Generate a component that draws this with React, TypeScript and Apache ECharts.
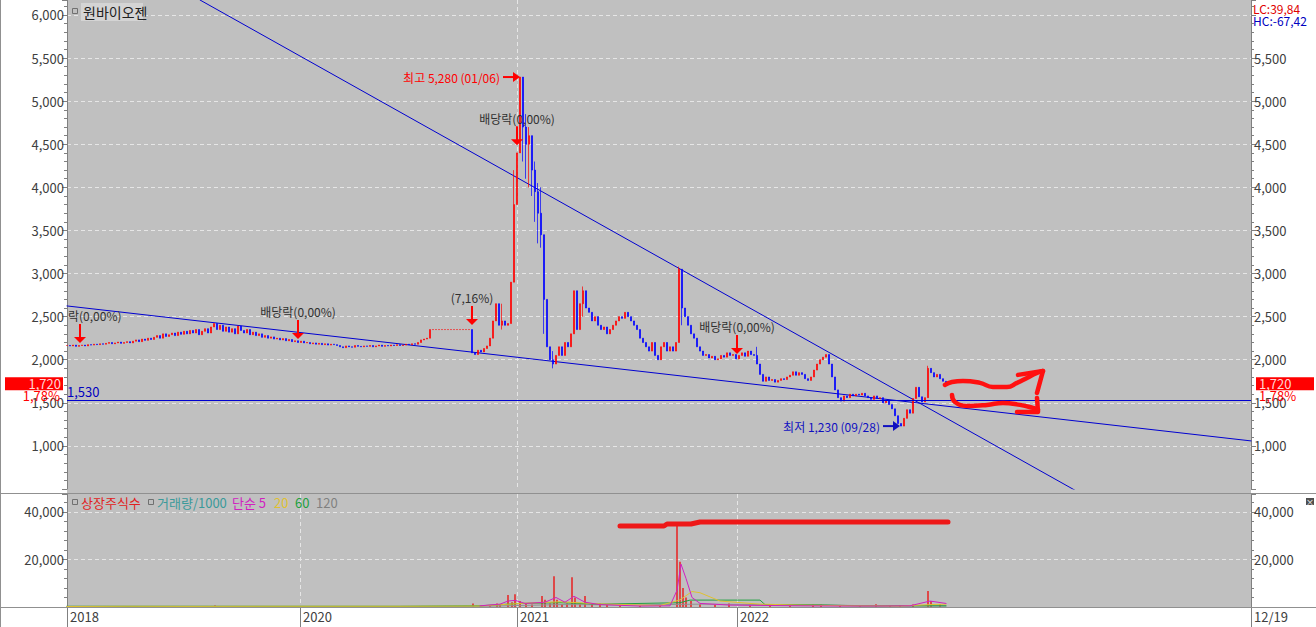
import React, { useEffect, useRef } from 'react';
import * as echarts from 'echarts';

const FONT = "'Noto Sans CJK KR', 'Noto Sans', sans-serif";

// x positions: plot units from the first trading day (0) to the right edge of the chart (1184)
const xTickValues = [0, 233, 450, 670, 1184];
const xTickLabels = ['2018', '2020', '2021', '2022', '12/19'];

const stockName = '원바이오젠';
const lcText = 'LC:39,84';
const hcText = 'HC:-67,42';

const priceStepX = 3;
// sampled closing prices (one every 3 plot units)
const closes = [
  2165, 2160, 2170, 2155, 2165, 2170, 2160, 2175, 2170, 2180,
  2175, 2185, 2180, 2190, 2200, 2185, 2195, 2205, 2190, 2200,
  2210, 2195, 2215, 2230, 2210, 2240, 2225, 2250, 2235, 2260,
  2280, 2250, 2300, 2270, 2290, 2310, 2280, 2320, 2295, 2330,
  2300, 2340, 2310, 2350, 2290, 2330, 2360, 2310, 2380, 2420,
  2350, 2400, 2330, 2380, 2320, 2360, 2300, 2390, 2340, 2310,
  2350, 2290, 2320, 2280, 2300, 2260, 2280, 2250, 2265, 2240,
  2250, 2230, 2245, 2220, 2235, 2210, 2220, 2200, 2215, 2195,
  2200, 2185, 2195, 2180, 2190, 2175, 2185, 2170, 2180, 2175,
  2165, 2150, 2140, 2160, 2150, 2145, 2165, 2155, 2150, 2160,
  2155, 2165, 2150, 2160, 2170, 2155, 2165, 2160, 2170, 2165,
  2175, 2165, 2170, 2180, 2175, 2185, 2180, 2200, 2230, 2240,
  2250, 2350, 2350, 2350, 2350, 2350, 2350, 2350, 2350, 2350,
  2350, 2350, 2350, 2350, 2350, 2080, 2060, 2110, 2090, 2130,
  2160, 2250, 2450, 2650, 2400, 2450, 2400, 2420, 2900, 3800,
  4400, 5280, 4700, 4500, 4600, 4200, 3950, 3700, 3450, 2700,
  2150, 2000, 1950, 2050, 2150, 2050, 2200, 2150, 2300, 2800,
  2350, 2650, 2800, 2600, 2550, 2450, 2500, 2400, 2350, 2380,
  2300, 2350, 2400, 2450, 2500, 2480, 2550, 2500, 2450, 2400,
  2350, 2250, 2200, 2150, 2100, 2200, 2050, 2000, 2150, 2200,
  2100, 2150, 2100, 2200, 3050, 2600, 2500, 2400, 2300, 2250,
  2150, 2100, 2050, 2060, 2020, 2040, 2000, 2010, 2050, 2030,
  2080, 2050, 2060, 2010, 2050, 2080, 2040, 2100, 2060, 2050,
  1950, 1830, 1750, 1800, 1760, 1770, 1740, 1760, 1780, 1770,
  1800, 1820, 1860, 1820, 1850, 1830, 1780, 1760, 1800, 1880,
  1950, 2000, 2030, 2060, 1950, 1800, 1650, 1560, 1520, 1580,
  1560, 1600, 1580, 1600, 1590, 1610, 1580, 1560, 1540, 1580,
  1550, 1560, 1500, 1520, 1480, 1430, 1350, 1260, 1230, 1320,
  1420, 1380, 1550, 1680, 1570, 1510, 1560, 1900, 1850, 1800,
  1830, 1780, 1750, 1720,
];
// intraday extremes: [x, low, high]
const wicks = [
  [447, 3600, 4200], [456, 4300, 5000], [459, 4100, 4850], [462, 4000, 4700], [465, 3900, 4500],
  [468, 3600, 4300], [471, 3350, 4050], [474, 3300, 4000], [477, 2300, 2800], [486, 1900, 2100],
  [516, 2500, 2850], [612, 2200, 3080], [615, 2400, 2900], [435, 2350, 2650], [690, 1950, 2150],
  [760, 1720, 1900], [833, 1210, 1300], [861, 1720, 1930],
];

const lastPrice = 1720;
const lastPriceLabel = '1,720';
const lastChangeLabel = '1,78%';
const supportLevel = 1530;

const trendSteep = [[133, 6174], [1011, 466]];
const trendShallow = [[0, 2624], [1184, 1058]];

const peakMark = { x: 453, price: 5280, label: '최고 5,280 (01/06)' };
const troughMark = { x: 833, price: 1230, label: '최저 1,230 (09/28)' };
const dividendMarks = [
  { x: 13, price: 2195, label: '락(0,00%)', clipped: true },
  { x: 231, price: 2241, label: '배당락(0,00%)', clipped: false },
  { x: 450, price: 4490, label: '배당락(0,00%)', clipped: false },
  { x: 670, price: 2067, label: '배당락(0,00%)', clipped: false },
  { x: 405, price: 2404, label: '(7,16%)', clipped: false },
];

// hand-drawn red strokes on the price pane
const strokeUpper = [[878, 1708], [885, 1742], [896, 1754], [913, 1731], [926, 1684], [940, 1684], [950, 1731], [960, 1789], [970, 1847], [976, 1870]];
const strokeUpperHead = [[951, 1824], [976, 1870], [970, 1615]];
const strokeLower = [[885, 1592], [888, 1510], [900, 1464], [920, 1476], [936, 1499], [953, 1476], [966, 1441], [971, 1420]];
const strokeLowerHead = [[970, 1557], [971, 1394], [950, 1394]];

// volume pane (거래량/1000)
const volumeBars = [
  [3, 300], [33, 250], [63, 300], [93, 400], [123, 350], [148, 600], [173, 450], [203, 300], [233, 250], [263, 200],
  [293, 200], [323, 250], [353, 300], [406, 1500], [423, 800], [430, 1500], [433, 1200], [441, 5000], [445, 2000], [448, 5400],
  [453, 2500], [459, 1500], [465, 1000], [475, 4600], [478, 3000], [483, 1500], [487, 12900], [490, 3000], [495, 1200], [500, 1500],
  [505, 12500], [508, 4000], [513, 1500], [518, 4600], [525, 1200], [533, 1500], [540, 1000], [553, 600], [573, 500], [593, 800],
  [610, 34000], [613, 19000], [616, 8000], [619, 4000], [624, 2500], [633, 1200], [648, 800], [662, 1500], [683, 600], [703, 500],
  [723, 400], [746, 1000], [754, 1000], [773, 400], [793, 300], [809, 1200], [823, 500], [833, 800], [846, 1000], [861, 6700],
  [864, 2500], [873, 1200],
];
const volumeMA5 = [[413, 500], [433, 1200], [441, 2500], [448, 2800], [458, 1500], [478, 2000], [489, 4000], [498, 2000], [507, 4500], [518, 2000], [533, 1000], [573, 400], [603, 500], [610, 7000], [614, 18000], [619, 12000], [625, 4000], [633, 1500], [663, 800], [733, 500], [773, 400], [813, 400], [843, 500], [863, 2500], [879, 1500]];
const volumeMA20 = [[0, 200], [60, 300], [120, 250], [200, 300], [333, 300], [413, 400], [453, 1500], [493, 2200], [533, 1300], [593, 600], [613, 3000], [625, 6500], [633, 6000], [653, 2500], [693, 1200], [733, 800], [783, 500], [833, 400], [863, 1000], [879, 1200]];
const volumeMA60 = [[0, 300], [133, 300], [333, 300], [413, 500], [453, 1500], [493, 1800], [533, 1200], [613, 1800], [623, 2900], [693, 2900], [698, 1000], [753, 900], [793, 500], [879, 500]];
const volumeMA120 = [[0, 250], [333, 250], [413, 300], [493, 1000], [573, 900], [633, 1200], [713, 1000], [793, 600], [879, 400]];
const listedShares = [[553, 34050], [597, 34050], [600, 34890], [624, 34890], [633, 35730], [881, 35730]];

const fmt = (v: number) => Math.round(v).toLocaleString('en-US');

export default function App() {
  const ref = useRef<HTMLDivElement>(null);
  useEffect(() => {
    const el = ref.current!;
    const chart = echarts.init(el, null, { renderer: 'svg' });

    const candles = closes.map((c, i) => {
      const x = i * priceStepX;
      const o = i === 0 ? c : closes[i - 1];
      const w = wicks.find((k) => k[0] === x);
      const lo = Math.min(o, c, w ? w[1] : Infinity);
      const hi = Math.max(o, c, w ? w[2] : -Infinity);
      return [x, o, c, lo, hi];
    });

    const gridLine = { color: '#e6e6e6', type: [4, 3] as any, width: 1 };
    const axisGray = { color: '#808080' };
    const labelStyle = { color: '#404040', fontSize: 13, fontFamily: FONT };

    const priceY = (position: string, split: boolean) => ({
      gridIndex: 0, type: 'value', position, min: 500, max: 6174, interval: 500,
      axisLine: { show: true, lineStyle: axisGray },
      axisTick: { show: true, length: 5, lineStyle: axisGray },
      minorTick: { show: true, splitNumber: 5, length: 3, lineStyle: axisGray },
      axisLabel: {
        ...labelStyle, margin: 3, showMinLabel: false, showMaxLabel: false,
        formatter: (v: number) => (position === 'right' && v >= 6000 ? '' : fmt(v)),
      },
      splitLine: { show: split, lineStyle: gridLine, showMinLine: false, showMaxLine: false },
    });
    const volY = (position: string, split: boolean) => ({
      gridIndex: 1, type: 'value', position, min: 0, max: 47500, interval: 20000,
      axisLine: { show: true, lineStyle: axisGray },
      axisTick: { show: true, length: 5, lineStyle: axisGray },
      minorTick: { show: true, splitNumber: 5, length: 3, lineStyle: axisGray },
      axisLabel: { ...labelStyle, margin: 3, showMinLabel: false, showMaxLabel: false, formatter: fmt },
      splitLine: { show: split, lineStyle: gridLine, showMinLine: false, showMaxLine: false },
    });

    const line = (data: number[][], color: string, width: number, xi: number, yi: number, smooth: any = false, z = 3) => ({
      type: 'line', xAxisIndex: xi, yAxisIndex: yi, data, showSymbol: false, symbol: 'none', silent: true,
      smooth, z, lineStyle: { color, width, cap: 'round', join: 'round' },
    });

    const option: any = {
      animation: false,
      grid: [
        { left: 67, width: 1184, top: 0, height: 489, show: true, backgroundColor: '#c0c0c0', borderWidth: 0 },
        { left: 67, width: 1184, top: 494, height: 113, show: true, backgroundColor: '#c0c0c0', borderWidth: 0 },
      ],
      xAxis: [
        {
          gridIndex: 0, type: 'value', min: 0, max: 1184,
          axisLine: { show: false }, axisLabel: { show: false },
          axisTick: { show: false, customValues: xTickValues.slice(1, 4) },
          splitLine: { show: true, lineStyle: gridLine, showMinLine: false, showMaxLine: false },
        },
        {
          gridIndex: 1, type: 'value', min: 0, max: 1184,
          axisLine: { show: true, lineStyle: axisGray },
          axisTick: { show: true, length: 20, customValues: xTickValues, lineStyle: axisGray },
          axisLabel: {
            ...labelStyle, customValues: xTickValues, align: 'left', margin: 3, padding: [0, 0, 0, 3],
            showMinLabel: true, showMaxLabel: true,
            formatter: (v: number) => xTickLabels[xTickValues.indexOf(Math.round(v))] ?? '',
          },
          splitLine: { show: true, lineStyle: gridLine, showMinLine: false, showMaxLine: false },
        },
      ],
      yAxis: [priceY('left', true), priceY('right', false), volY('left', true), volY('right', false)],
      series: [
        line(trendShallow, '#0000d0', 1, 0, 0, false, 2),
        line(trendSteep, '#0000d0', 1, 0, 0, false, 2),
        {
          type: 'candlestick', xAxisIndex: 0, yAxisIndex: 0, data: candles, barWidth: 2.3, silent: true, z: 3,
          encode: { x: 0, y: [1, 2, 3, 4] },
          itemStyle: { color: '#ff0000', color0: '#0000ff', borderColor: '#ff0000', borderColor0: '#0000ff', borderWidth: 0.7 },
          markLine: {
            silent: true, symbol: 'none', animation: false,
            data: [{ yAxis: supportLevel }],
            lineStyle: { color: '#0000d0', width: 1, type: 'solid' },
            label: { position: 'insideStartTop', formatter: fmt(supportLevel), color: '#0000c0', fontSize: 13, fontFamily: FONT, distance: [0, 2] },
          },
        },
        line(strokeUpper, '#ff1010', 4.5, 0, 0, 0.5, 10),
        line(strokeUpperHead, '#ff1010', 4.5, 0, 0, false, 10),
        line(strokeLower, '#ff1010', 4.5, 0, 0, 0.5, 10),
        line(strokeLowerHead, '#ff1010', 4.5, 0, 0, false, 10),
        { type: 'bar', xAxisIndex: 1, yAxisIndex: 2, data: volumeBars, barWidth: 1.5, silent: true, itemStyle: { color: '#e82020' }, z: 3 },
        line(volumeMA120, '#909090', 1, 1, 2),
        line(volumeMA60, '#20a040', 1, 1, 2),
        line(volumeMA20, '#e0c030', 1, 1, 2),
        line(volumeMA5, '#d020c0', 1, 1, 2),
        line(listedShares, '#ee1818', 5, 1, 2, false, 6),
      ],
    };
    chart.setOption(option);

    const toPx = (x: number, p: number) => chart.convertToPixel({ gridIndex: 0 }, [x, p]) as number[];
    const font12 = `12px ${FONT}`;
    const font13 = `13px ${FONT}`;
    const g: any[] = [];
    const text = (t: string, x: number, y: number, fill: string, align = 'left', font = font12, z = 50) => ({
      type: 'text', x, y, z, silent: true,
      style: { text: t, fill, font, textAlign: align, textVerticalAlign: 'middle' },
    });

    // frame lines
    g.push({ type: 'rect', z: -1, silent: true, shape: { x: 67, y: 489, width: 1184, height: 5 }, style: { fill: '#c0c0c0' } });
    g.push({ type: 'line', z: 40, silent: true, shape: { x1: 0, y1: 493.5, x2: 1316, y2: 493.5 }, style: { stroke: '#909090', lineWidth: 1 } });
    g.push({ type: 'line', z: 40, silent: true, shape: { x1: 0, y1: 607.5, x2: 1316, y2: 607.5 }, style: { stroke: '#909090', lineWidth: 1 } });
    g.push({ type: 'line', z: 40, silent: true, shape: { x1: 0.5, y1: 0, x2: 0.5, y2: 627 }, style: { stroke: '#909090', lineWidth: 1 } });

    // title
    g.push({ type: 'rect', z: 50, silent: true, shape: { x: 72.5, y: 8.5, width: 5, height: 5 }, style: { fill: 'none', stroke: '#707070', lineWidth: 1 } });
    g.push({ type: 'rect', z: 49, silent: true, shape: { x: 81, y: 3, width: 62, height: 18 }, style: { fill: '#d4d4d4' } });
    g.push(text(stockName, 83, 12, '#202020', 'left', `14px ${FONT}`));

    // LC / HC
    g.push(text(lcText, 1253, 8, '#e00000'));
    g.push(text(hcText, 1253, 20, '#0000c0'));

    // current price tags
    const yLast = chart.convertToPixel({ yAxisIndex: 0 }, lastPrice) as number;
    g.push({ type: 'rect', z: 45, silent: true, shape: { x: 5, y: yLast - 6.5, width: 58, height: 13 }, style: { fill: '#ff0000' } });
    g.push(text(lastPriceLabel, 61, yLast, '#ffd6d6', 'right', font13));
    g.push(text(lastChangeLabel, 60, yLast + 12, '#ff0000', 'right', font13));
    g.push({ type: 'rect', z: 45, silent: true, shape: { x: 1256, y: yLast - 6.5, width: 58, height: 13 }, style: { fill: '#ff0000' } });
    g.push(text(lastPriceLabel, 1259, yLast, '#ffd6d6', 'left', font13));
    g.push(text(lastChangeLabel, 1259, yLast + 12, '#ff0000', 'left', font13));

    // dividend / rights arrows
    const plotLeft = (chart.convertToPixel({ xAxisIndex: 0 }, 0) as number);
    dividendMarks.forEach((m) => {
      const [tx, ty] = toPx(m.x, m.price);
      g.push({ type: 'line', z: 30, silent: true, shape: { x1: tx, y1: ty - 19, x2: tx, y2: ty - 5 }, style: { stroke: '#ff0000', lineWidth: 2 } });
      g.push({ type: 'polygon', z: 30, silent: true, shape: { points: [[tx - 6, ty - 6], [tx + 6, ty - 6], [tx, ty]] }, style: { fill: '#ff0000' } });
      if (m.clipped) g.push(text(m.label, plotLeft + 1, ty - 27, '#303030', 'left'));
      else g.push(text(m.label, tx, ty - 27, '#303030', 'center'));
    });

    // peak / trough
    const sideArrow = (x: number, p: number, label: string, color: string) => {
      const [tx, ty] = toPx(x, p);
      g.push({ type: 'line', z: 30, silent: true, shape: { x1: tx - 17, y1: ty, x2: tx - 6, y2: ty }, style: { stroke: color, lineWidth: 2 } });
      g.push({ type: 'polygon', z: 30, silent: true, shape: { points: [[tx - 7, ty - 5], [tx - 7, ty + 5], [tx, ty]] }, style: { fill: color } });
      g.push(text(label, tx - 20, ty, color, 'right'));
    };
    sideArrow(peakMark.x, peakMark.price, peakMark.label, '#ff0000');
    sideArrow(troughMark.x, troughMark.price, troughMark.label, '#1010c0');

    // volume legend
    const ly = 502;
    const sq = (x: number) => ({ type: 'rect', z: 50, silent: true, shape: { x: x + 0.5, y: ly - 2.5, width: 5, height: 5 }, style: { fill: 'none', stroke: '#707070', lineWidth: 1 } });
    g.push(sq(72));
    g.push(text('상장주식수', 81, ly, '#e02020', 'left', font13));
    g.push(sq(148));
    g.push(text('거래량/1000', 157, ly, '#3a9a9a', 'left', font13));
    g.push(text('단순 5', 232, ly, '#d020c0', 'left', font13));
    g.push(text('20', 274, ly, '#e0c030', 'left', font13));
    g.push(text('60', 295, ly, '#20a040', 'left', font13));
    g.push(text('120', 316, ly, '#808080', 'left', font13));

    // close button
    g.push({ type: 'rect', z: 50, silent: true, shape: { x: 1306, y: 498, width: 8, height: 7 }, style: { fill: '#505050' } });
    g.push(text('×', 1310, 501.5, '#ffffff', 'center', `8px ${FONT}`, 51));

    chart.setOption({ graphic: g });
    return () => chart.dispose();
  }, []);
  return (
    <div
      ref={ref}
      style={{ position: 'absolute', left: 0, top: 0, width: 1316, height: 627, background: '#ffffff' }}
    />
  );
}
